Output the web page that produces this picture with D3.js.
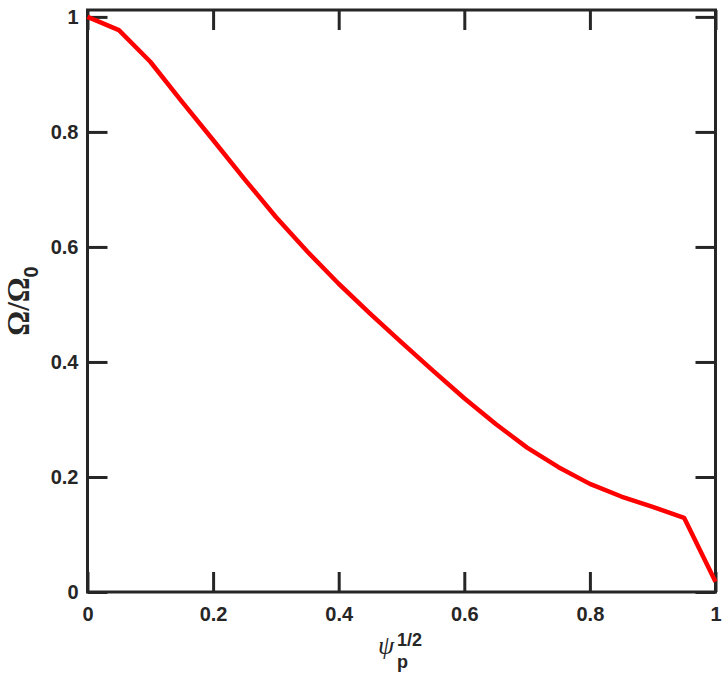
<!DOCTYPE html>
<html>
<head>
<meta charset="utf-8">
<script src="https://cdn.jsdelivr.net/npm/d3@7"></script>
<style>
  html, body { margin: 0; padding: 0; background: #fff; }
  svg { display: block; }
</style>
</head>
<body>
<svg id="chart" width="725" height="673"></svg>
<script>
// ---- data ----
const psiSqrt = [0, 0.05, 0.1, 0.15, 0.2, 0.25, 0.3, 0.35, 0.4, 0.45, 0.5,
                 0.55, 0.6, 0.65, 0.7, 0.75, 0.8, 0.85, 0.9, 0.95, 1.0];
const omegaRatio = [1.0, 0.977, 0.922, 0.853, 0.786, 0.718, 0.652, 0.592, 0.536, 0.484, 0.434,
                    0.385, 0.337, 0.292, 0.251, 0.217, 0.188, 0.166, 0.148, 0.129, 0.018];
const xTicks = [0, 0.2, 0.4, 0.6, 0.8, 1];
const xTickLabels = ["0", "0.2", "0.4", "0.6", "0.8", "1"];
const yTicks = [0, 0.2, 0.4, 0.6, 0.8, 1];
const yTickLabels = ["0", "0.2", "0.4", "0.6", "0.8", "1"];
const xLimits = [0, 1];
const yLimits = [0, 1.012];

// ---- layout ----
const svg = d3.select("#chart");
const plot = { left: 87.5, right: 715.5, top: 10, bottom: 592 };
const axisColor = "#262626";
const tickLen = 20;

const x = d3.scaleLinear().domain(xLimits).range([plot.left, plot.right]);
const y = d3.scaleLinear().domain(yLimits).range([plot.bottom, plot.top]);

const tickFont = "'Liberation Sans', Arial, Helvetica, sans-serif";
const serifFont = "'Liberation Serif', 'Times New Roman', serif";

function styleAxis(g) {
  g.select(".domain").remove();
  g.selectAll(".tick line").attr("stroke", axisColor).attr("stroke-width", 3);
  g.selectAll(".tick text")
    .attr("fill", axisColor)
    .attr("font-family", tickFont)
    .attr("font-weight", "bold")
    .attr("font-size", 20);
}

// bottom axis
svg.append("g")
  .attr("transform", `translate(0,${plot.bottom})`)
  .call(d3.axisBottom(x).tickValues(xTicks)
        .tickFormat((d, i) => xTickLabels[i])
        .tickSizeInner(-tickLen).tickSizeOuter(0).tickPadding(15))
  .call(styleAxis);

// top axis (mirror ticks)
svg.append("g")
  .attr("transform", `translate(0,${plot.top})`)
  .call(d3.axisTop(x).tickValues(xTicks).tickFormat("")
        .tickSizeInner(-tickLen).tickSizeOuter(0))
  .call(styleAxis);

// left axis
svg.append("g")
  .attr("transform", `translate(${plot.left},0)`)
  .call(d3.axisLeft(y).tickValues(yTicks)
        .tickFormat((d, i) => yTickLabels[i])
        .tickSizeInner(-tickLen).tickSizeOuter(0).tickPadding(9))
  .call(styleAxis);

// right axis (mirror ticks)
svg.append("g")
  .attr("transform", `translate(${plot.right},0)`)
  .call(d3.axisRight(y).tickValues(yTicks).tickFormat("")
        .tickSizeInner(-tickLen).tickSizeOuter(0))
  .call(styleAxis);

// frame
svg.append("rect")
  .attr("x", plot.left).attr("y", plot.top)
  .attr("width", plot.right - plot.left).attr("height", plot.bottom - plot.top)
  .attr("fill", "none").attr("stroke", axisColor).attr("stroke-width", 3);

// data line
const pts = psiSqrt.map((v, i) => [v, omegaRatio[i]]);
svg.append("path")
  .datum(pts)
  .attr("fill", "none")
  .attr("stroke", "#ff0000")
  .attr("stroke-width", 4.5)
  .attr("stroke-linejoin", "round")
  .attr("d", d3.line().x(d => x(d[0])).y(d => y(d[1])));

// x axis title: psi_p^{1/2}
const xt = svg.append("text")
  .attr("x", 378).attr("y", 654)
  .attr("fill", axisColor);
xt.append("tspan")
  .attr("font-family", serifFont)
  .attr("font-style", "italic")
  .attr("font-size", 26)
  .text("ψ");
xt.append("tspan")
  .attr("x", 397).attr("y", 646)
  .attr("font-family", tickFont).attr("font-weight", "bold").attr("font-size", 18)
  .text("1/2");
xt.append("tspan")
  .attr("x", 397).attr("y", 668)
  .attr("font-family", tickFont).attr("font-weight", "bold").attr("font-size", 18)
  .text("p");

// y axis title: Omega/Omega_0
const yt = svg.append("text")
  .attr("transform", "translate(29,301) rotate(-90)")
  .attr("text-anchor", "middle")
  .attr("fill", axisColor);
yt.append("tspan")
  .attr("font-family", serifFont)
  .attr("font-weight", "bold")
  .attr("font-size", 31)
  .text("Ω/Ω");
yt.append("tspan")
  .attr("dy", 9)
  .attr("font-family", tickFont).attr("font-weight", "bold").attr("font-size", 20)
  .text("0");
</script>
</body>
</html>
